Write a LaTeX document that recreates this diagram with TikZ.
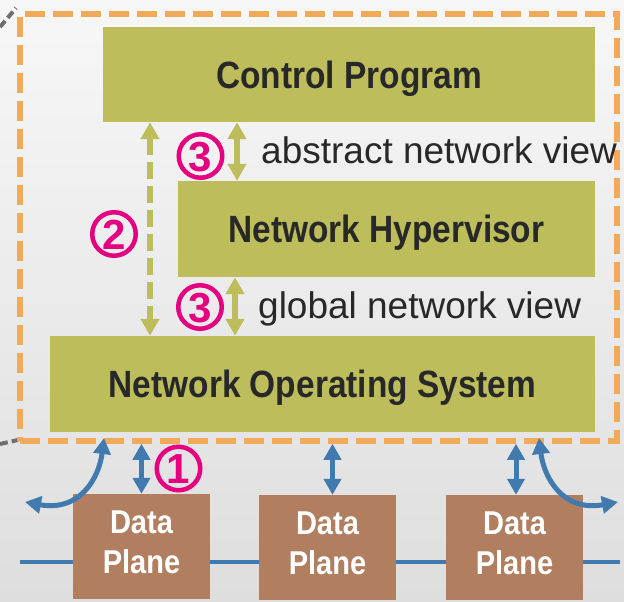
\documentclass[tikz,border=0pt]{standalone}
\usepackage{fontspec}
\setmainfont{Liberation Sans}
\newfontfamily\boxfont{Liberation Sans Bold}[FakeStretch=0.88]
\newfontfamily\digitfont{Liberation Sans Bold}
\usetikzlibrary{arrows.meta}
\definecolor{layergreen}{RGB}{189,190,91}
\definecolor{planebrown}{RGB}{177,127,96}
\definecolor{frameorange}{RGB}{240,170,90}
\definecolor{wireblue}{RGB}{64,122,174}
\definecolor{markpink}{RGB}{228,0,127}
\definecolor{ink}{RGB}{40,40,40}
\definecolor{zoomgrey}{RGB}{110,110,110}
\begin{document}
\begin{tikzpicture}[x=1pt,y=-1pt,
  layerbox/.style={fill=layergreen, inner sep=0pt, text=ink,
    font=\boxfont\fontsize{38}{40}\selectfont, text height=27.2pt, text depth=0pt},
  planebox/.style={fill=planebrown, inner sep=0pt, minimum width=137pt, minimum height=105pt},
  planetext/.style={text=white, align=center, inner sep=0pt,
    font=\boxfont\fontsize{33}{40}\selectfont},
  viewlabel/.style={text=ink, inner sep=0pt, font=\fontsize{37}{40}\selectfont},
  numcirc/.style={circle, draw=markpink, line width=4.5pt, minimum size=43.5pt, inner sep=0pt,
    text=markpink, font=\digitfont\fontsize{42}{42}\selectfont, text height=30pt, text depth=0pt},
  greenarrow/.style={draw=layergreen, line width=5.5pt,
    {Triangle[width=18pt,length=17pt]}-{Triangle[width=18pt,length=17pt]}},
  bluearrow/.style={draw=wireblue, line width=5pt,
    {Triangle[width=17pt,length=16pt]}-{Triangle[width=17pt,length=16pt]}},
  zoomline/.style={draw=zoomgrey, line width=4pt, dash pattern=on 8pt off 4pt}]

\useasboundingbox (0,0) rectangle (624,602);
\shade[top color=black!3, bottom color=black!13] (0,0) rectangle (624,602);

% zoom lines leading off the left edge
\draw[zoomline] (0,27) -- (16,8);
\draw[zoomline] (0,444) -- (18,440);

% data-plane bus
\coordinate (busL) at (20,562);
\coordinate (busR) at (620,562);
\draw[wireblue, line width=4pt] (busL) -- (busR);

% controller frame
\node[draw=frameorange, line width=5.5pt, dash pattern=on 20pt off 8pt,
      minimum width=597pt, minimum height=427pt, inner sep=0pt] (sys) at (318.5,227.5) {};

% control layers
\node[layerbox, minimum width=492pt, minimum height=95pt] (cp) at (349,74.5) {Control Program};
\node[layerbox, minimum width=417pt, minimum height=96pt] (hv) at (386.5,229) {Network Hypervisor};
\node[layerbox, minimum width=545pt, minimum height=96pt] (nos) at (322.5,384) {Network Operating System};

% data planes
\node[planebox] (dp1) at (141.5,546.5) {};
\node[planebox] (dp2) at (327.5,547.5) {};
\node[planebox] (dp3) at (514.5,547.5) {};
\node[planetext, yshift=4.5pt] (dp1t) at (dp1) {Data\\Plane};
\node[planetext, yshift=4.5pt] (dp2t) at (dp2) {Data\\Plane};
\node[planetext, yshift=4.5pt] (dp3t) at (dp3) {Data\\Plane};

% columns for the vertical connectors
\coordinate (colA) at (150,0);
\coordinate (colB) at (237,0);
\coordinate (colC) at (235,0);

% interfaces between layers
\draw[greenarrow, dash pattern=on 17pt off 7pt] (cp.south -| colA) -- (nos.north -| colA);
\draw[greenarrow] (cp.south -| colB) -- (hv.north -| colB);
\draw[greenarrow] (hv.south -| colC) -- (nos.north -| colC);

\node[viewlabel, anchor=base west] (absv) at (261,163) {abstract network view};
\node[viewlabel, anchor=base west] (globv) at (258,318) {global network view};

% step markers
\node[numcirc] (m3a) at (200.5,156) {3};
\node[numcirc] (m3b) at (200,307) {3};
\node[numcirc] (m2) at (114,234) {2};
\node[numcirc] (m1) at (178.5,468.5) {1};

% southbound links
\draw[bluearrow] (dp1.north) -- (dp1.north |- sys.south);
\draw[bluearrow] ([xshift=5pt]dp2.north) -- ([xshift=5pt]dp2.north |- sys.south);
\draw[bluearrow] ([xshift=1.5pt]dp3.north) -- ([xshift=1.5pt]dp3.north |- sys.south);

% links to neighbouring domains
\coordinate (leftout) at (25,502);
\coordinate (leftin) at (104,438);
\coordinate (rightout) at (618,502);
\coordinate (rightin) at (539,438);
\draw[bluearrow] (leftout) .. controls (80,512) and (99,478) .. (leftin);
\draw[bluearrow] (rightout) .. controls (563,512) and (544,478) .. (rightin);

\end{tikzpicture}
\end{document}
